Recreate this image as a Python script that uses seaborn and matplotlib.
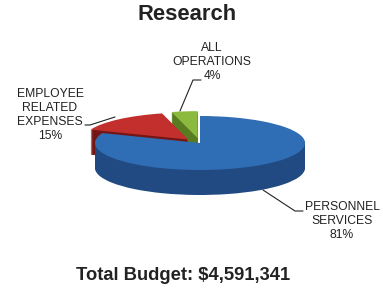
import matplotlib
matplotlib.use("Agg")
import matplotlib.pyplot as plt
import seaborn as sns

# chart data
categories = ["PERSONNEL\nSERVICES", "EMPLOYEE\nRELATED\nEXPENSES", "ALL\nOPERATIONS"]
shares = [81, 15, 4]
title = "Research"
total_label = "Total Budget: $4,591,341"

sns.set_style("white")
plt.rcParams["font.family"] = ["Liberation Sans", "DejaVu Sans"]

top_colors = ["#2f6db5", "#c22f2c", "#8cba3f"]
side_colors = ["#214a82", "#741615", "#587c22"]
explode = [0.0, 0.17, 0.18]

fig = plt.figure(figsize=(3.83, 2.89), dpi=100)
ax = fig.add_axes([0, 0, 1, 1])

# 3d look: stack darker copies of the pie downwards, then the top face
depth = 25 / 27.0
n_layers = 25
for k in range(n_layers, 0, -1):
    ax.pie(shares, colors=side_colors, startangle=90, counterclock=False,
           explode=explode, center=(0, -depth * k / n_layers),
           wedgeprops=dict(linewidth=0, antialiased=True))
ax.pie(shares, colors=top_colors, startangle=90, counterclock=False,
       explode=explode, wedgeprops=dict(linewidth=0))

# squash the circle into an ellipse: 1 unit = 105 px across, 27 px down
ax.set_aspect("auto")
ax.set_xlim(-200 / 105, 183 / 105)
ax.set_ylim(-146 / 27, 143 / 27)
ax.axis("off")

# overlay in pixel coordinates for labels and leader lines
ov = fig.add_axes([0, 0, 1, 1])
ov.set_xlim(0, 383)
ov.set_ylim(289, 0)
ov.axis("off")
ov.patch.set_alpha(0)

ov.text(187, 15, title, ha="center", va="center", fontsize=15.8, fontweight="bold", color="#222222")
ov.text(183, 275, total_label, ha="center", va="center", fontsize=13.2, fontweight="bold", color="#222222")

kw = dict(ha="center", va="center", fontsize=8.7, color="#222222", linespacing=1.2)
ov.text(342, 221, categories[0] + "\n" + f"{shares[0]}%", **kw)
ov.text(50, 115, categories[1] + "\n" + f"{shares[1]}%", **kw)
ov.text(212, 62, categories[2] + "\n" + f"{shares[2]}%", **kw)

lk = dict(color="#222222", linewidth=0.8)
ov.plot([263, 295, 303], [190, 211, 211], **lk)
ov.plot([115, 90, 85], [117, 125, 125], **lk)
ov.plot([180, 193, 201], [111, 80, 80], **lk)

fig.savefig("out.png", dpi=100)
